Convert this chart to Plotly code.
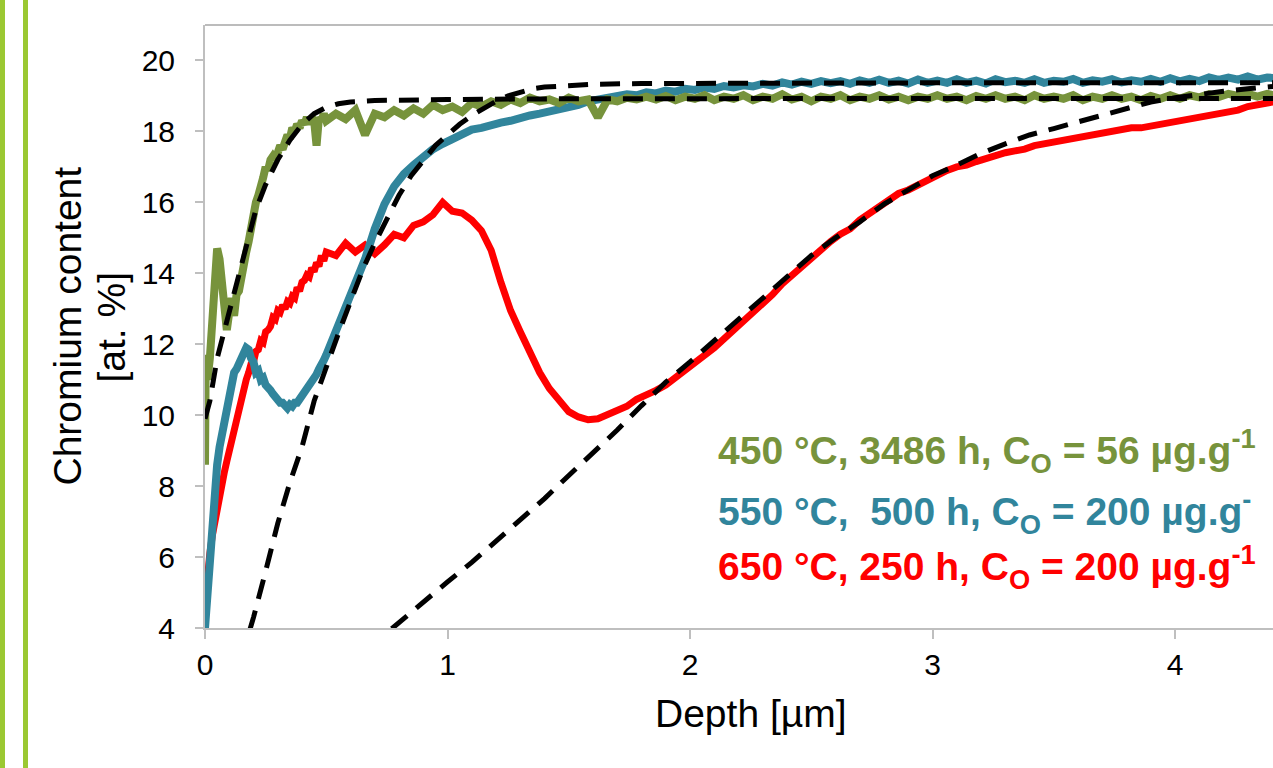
import plotly.graph_objects as go

# ---------------- data ----------------
# Depth grid (µm) for the measured profiles
depth_a = [0.00, 0.01, 0.02, 0.03, 0.04, 0.05, 0.06, 0.07, 0.08, 0.09,
           0.10, 0.11, 0.12, 0.13, 0.14, 0.15, 0.16, 0.17, 0.18, 0.19,
           0.20, 0.21, 0.22, 0.23, 0.24, 0.25, 0.26, 0.27, 0.28, 0.29,
           0.30, 0.31, 0.32, 0.33, 0.34, 0.35, 0.36, 0.37, 0.38, 0.39,
           0.40, 0.41, 0.42, 0.43, 0.44, 0.45, 0.46, 0.47, 0.48, 0.49,
           0.50]
depth_b = [0.54, 0.58, 0.62, 0.66, 0.70, 0.74, 0.78, 0.82, 0.86, 0.90,
           0.94, 0.98, 1.02, 1.06, 1.10, 1.14, 1.18, 1.22, 1.26, 1.30,
           1.34, 1.38, 1.42, 1.46, 1.50, 1.54, 1.58, 1.62, 1.66, 1.70,
           1.74, 1.78, 1.82, 1.86, 1.90, 1.94, 1.98, 2.02, 2.06, 2.10,
           2.14, 2.18, 2.22, 2.26, 2.30, 2.34, 2.38, 2.42, 2.46, 2.50,
           2.54, 2.58, 2.62, 2.66, 2.70, 2.74, 2.78, 2.82, 2.86, 2.90,
           2.94, 2.98, 3.02, 3.06, 3.10, 3.14, 3.18, 3.22, 3.26, 3.30,
           3.34, 3.38, 3.42, 3.46, 3.50, 3.54, 3.58, 3.62, 3.66, 3.70,
           3.74, 3.78, 3.82, 3.86, 3.90, 3.94, 3.98, 4.02, 4.06, 4.10,
           4.14, 4.18, 4.22, 4.26, 4.30, 4.34, 4.38, 4.42]

# 450 °C, 3486 h (green)
green_start_x = [0.0, 0.003, 0.006]
green_start_y = [8.6, 11.7, 9.3]
green_a = [9.0, 11.0, 11.6, 12.6, 14.3, 14.7, 14.4, 13.5, 12.8, 12.4,
           12.9, 13.3, 12.8, 13.4, 13.5, 14.0, 14.2, 14.6, 14.9, 15.4,
           15.6, 16.0, 16.2, 16.6, 16.7, 17.0, 16.9, 17.2, 17.3, 17.2,
           17.5, 17.6, 17.5, 17.8, 17.9, 17.8, 18.1, 18.0, 18.2, 18.1,
           18.3, 18.2, 18.4, 18.2, 18.4, 18.3, 17.6, 18.4, 18.3, 18.5,
           18.3]
green_b = [18.5, 18.35, 18.6, 17.9, 18.5, 18.4, 18.6, 18.45, 18.65, 18.5,
           18.75, 18.6, 18.7, 18.55, 18.8, 18.7, 18.85, 18.75, 18.9, 18.8,
           18.95, 18.85, 18.9, 18.8, 18.95, 18.85, 18.9, 18.4, 18.9, 18.85,
           18.95, 18.9, 18.98, 18.9, 19.0, 18.88, 18.98, 18.92, 19.02, 18.88,
           18.98, 18.92, 19.02, 18.88, 18.98, 18.92, 19.05, 18.9, 18.98, 18.85,
           18.98, 18.92, 19.02, 18.88, 18.98, 18.92, 19.02, 18.9, 18.98, 18.88,
           18.98, 18.92, 19.02, 18.92, 18.98, 18.88, 19.0, 18.92, 19.02, 18.92,
           18.98, 18.88, 19.02, 18.92, 18.98, 18.92, 19.02, 18.88, 18.98, 18.92,
           19.02, 18.92, 18.98, 18.88, 19.0, 18.92, 19.02, 18.92, 19.02, 18.96,
           19.05, 18.97, 19.06, 19.0, 19.06, 18.98, 19.06, 19.0]

# 550 °C, 500 h (blue)
blue_a = [4.0, 5.0, 6.3, 7.1, 7.9, 8.6, 9.1, 9.5, 9.9, 10.3,
          10.6, 10.9, 11.2, 11.3, 11.5, 11.6, 11.75, 11.9, 11.85, 11.6,
          11.5, 11.2, 11.25, 11.0, 11.05, 10.85, 10.8, 10.7, 10.6, 10.5,
          10.5, 10.35, 10.35, 10.25, 10.2, 10.3, 10.25, 10.35, 10.35, 10.45,
          10.55, 10.6, 10.75, 10.8, 10.95, 11.05, 11.15, 11.3, 11.4, 11.55,
          11.7]
blue_b = [12.35, 13.05, 13.7, 14.4, 15.25, 15.95, 16.45, 16.8, 17.05, 17.3,
          17.5, 17.65, 17.8, 17.95, 18.05, 18.1, 18.2, 18.25, 18.3, 18.4,
          18.45, 18.5, 18.55, 18.6, 18.7, 18.75, 18.85, 18.9, 18.95, 18.95,
          19.05, 19.02, 19.1, 19.07, 19.15, 19.12, 19.2, 19.17, 19.24, 19.2,
          19.28, 19.24, 19.3, 19.27, 19.34, 19.29, 19.38, 19.32, 19.4, 19.34,
          19.42, 19.36, 19.42, 19.34, 19.44, 19.37, 19.46, 19.37, 19.43, 19.35,
          19.46, 19.37, 19.43, 19.37, 19.47, 19.37, 19.43, 19.35, 19.47, 19.39,
          19.43, 19.37, 19.47, 19.37, 19.43, 19.4, 19.48, 19.37, 19.44, 19.4,
          19.47, 19.38, 19.44, 19.4, 19.48, 19.4, 19.5, 19.41, 19.48, 19.42,
          19.52, 19.45, 19.52, 19.46, 19.55, 19.46, 19.52, 19.5]

# 650 °C, 250 h (red)
red_a = [4.7, 5.6, 6.1, 6.6, 7.0, 7.4, 7.8, 8.1, 8.4, 8.7,
         9.0, 9.35, 9.6, 9.95, 10.2, 10.5, 10.75, 11.0, 11.2, 11.45,
         11.5, 11.8, 11.85, 12.1, 12.05, 12.35, 12.4, 12.5, 12.75, 12.7,
         12.95, 12.9, 13.1, 13.0, 13.2, 13.15, 13.35, 13.3, 13.6, 13.5,
         13.75, 13.8, 13.95, 13.9, 14.15, 14.05, 14.3, 14.2, 14.5, 14.35,
         14.6]
red_b = [14.5, 14.85, 14.6, 14.8, 14.55, 14.8, 15.1, 15.0, 15.35, 15.45,
         15.65, 16.0, 15.75, 15.7, 15.5, 15.2, 14.65, 13.75, 12.95, 12.35,
         11.75, 11.2, 10.75, 10.4, 10.1, 9.95, 9.87, 9.9, 10.0, 10.1,
         10.25, 10.45, 10.55, 10.7, 10.85, 11.05, 11.25, 11.45, 11.65, 11.9,
         12.15, 12.4, 12.6, 12.9, 13.1, 13.4, 13.7, 13.95, 14.15, 14.4,
         14.65, 14.9, 15.1, 15.25, 15.5, 15.7, 15.9, 16.05, 16.25, 16.35,
         16.5, 16.6, 16.75, 16.9, 17.0, 17.05, 17.15, 17.25, 17.35, 17.4,
         17.45, 17.5, 17.6, 17.65, 17.7, 17.75, 17.8, 17.85, 17.9, 17.97,
         18.0, 18.05, 18.1, 18.1, 18.15, 18.2, 18.25, 18.3, 18.35, 18.42,
         18.45, 18.5, 18.55, 18.6, 18.7, 18.75, 18.8, 18.85]

# Fitted profiles (black dashed)
fit_green_x = [0.0, 0.02, 0.05, 0.08, 0.10, 0.12, 0.15, 0.18, 0.21, 0.25,
               0.30, 0.35, 0.40, 0.45, 0.50, 0.55, 0.60, 0.70, 0.80, 1.0,
               1.5, 2.0, 3.0, 4.45]
fit_green_y = [9.9, 10.4, 11.6, 12.4, 12.9, 13.4, 14.3, 15.1, 15.8, 16.5,
               17.2, 17.75, 18.2, 18.5, 18.68, 18.78, 18.83, 18.87, 18.89, 18.9,
               18.92, 18.93, 18.93, 18.93]
fit_blue_x = [0.185, 0.20, 0.25, 0.30, 0.35, 0.40, 0.45, 0.50, 0.55, 0.60,
              0.65, 0.70, 0.75, 0.80, 0.85, 0.90, 0.95, 1.00, 1.05, 1.10,
              1.15, 1.20, 1.25, 1.30, 1.35, 1.40, 1.50, 1.60, 1.80, 2.20,
              3.00, 4.45]
fit_blue_y = [3.95, 4.3, 5.6, 6.95, 8.1, 9.1, 10.4, 11.4, 12.3, 13.2,
              14.1, 14.85, 15.55, 16.2, 16.75, 17.2, 17.6, 17.9, 18.2, 18.45,
              18.65, 18.85, 19.0, 19.1, 19.2, 19.25, 19.3, 19.33, 19.35, 19.36,
              19.37, 19.37]
fit_red_x = [0.77, 0.90, 1.00, 1.10, 1.20, 1.30, 1.40, 1.50, 1.60, 1.70,
             1.80, 1.90, 2.00, 2.10, 2.20, 2.30, 2.40, 2.50, 2.60, 2.70,
             2.80, 2.90, 3.00, 3.10, 3.20, 3.30, 3.40, 3.50, 3.60, 3.70,
             3.80, 3.90, 4.00, 4.10, 4.20, 4.30, 4.45]
fit_red_y = [3.98, 4.75, 5.3, 5.85, 6.45, 7.05, 7.65, 8.3, 8.93, 9.58,
             10.27, 10.93, 11.5, 12.1, 12.7, 13.3, 13.93, 14.5, 15.0, 15.45,
             15.95, 16.35, 16.75, 17.05, 17.38, 17.65, 17.9, 18.08, 18.27, 18.45,
             18.65, 18.83, 18.95, 19.05, 19.13, 19.2, 19.3]

labels = ["450 °C, 3486 h, C<sub>O</sub> = 56 µg.g<sup>-1</sup>",
          "550 °C,\u00a0\u00a0500 h, C<sub>O</sub> = 200 µg.g<sup>-</sup>",
          "650 °C, 250 h, C<sub>O</sub> = 200 µg.g<sup>-1</sup>"]
label_y = [9.0, 7.27, 5.72]

GREEN = "#77933C"
BLUE = "#31859C"
RED = "#FF0000"
FONT = "Liberation Sans, Arial, sans-serif"

# ---------------- figure ----------------
fig = go.Figure()

fig.add_trace(go.Scatter(x=depth_a + depth_b, y=red_a + red_b, mode="lines",
                         line=dict(color=RED, width=7)))
fig.add_trace(go.Scatter(x=depth_a + depth_b, y=blue_a + blue_b, mode="lines",
                         line=dict(color=BLUE, width=8)))
fig.add_trace(go.Scatter(x=green_start_x + depth_a[1:] + depth_b,
                         y=green_start_y + green_a[1:] + green_b, mode="lines",
                         line=dict(color=GREEN, width=8)))

for fx, fy in [(fit_green_x, fit_green_y), (fit_blue_x, fit_blue_y), (fit_red_x, fit_red_y)]:
    fig.add_trace(go.Scatter(x=fx, y=fy, mode="lines",
                             line=dict(color="black", width=5, dash="20px,12px")))

for txt, yy, col in zip(labels, label_y, [GREEN, BLUE, RED]):
    fig.add_annotation(x=2.107, y=yy, xref="x", yref="y", text="<b>" + txt + "</b>",
                       showarrow=False, xanchor="left", yanchor="middle",
                       font=dict(family=FONT, size=39, color=col))

# axis titles
fig.add_annotation(x=(67 - 205) / 1068, y=0.5, xref="paper", yref="paper",
                   text="Chromium content", textangle=-90, showarrow=False,
                   xanchor="center", yanchor="middle",
                   font=dict(family=FONT, size=39, color="black"))
fig.add_annotation(x=(111 - 205) / 1068, y=0.5, xref="paper", yref="paper",
                   text="[at. %]", textangle=-90, showarrow=False,
                   xanchor="center", yanchor="middle",
                   font=dict(family=FONT, size=39, color="black"))
fig.add_annotation(x=(751 - 205) / 1068, y=(628 - 713) / 603, xref="paper", yref="paper",
                   text="Depth [µm]", showarrow=False,
                   xanchor="center", yanchor="middle",
                   font=dict(family=FONT, size=39, color="black"))

# decorative slide bars and top border
fig.add_shape(type="rect", xref="paper", yref="paper",
              x0=(0 - 205) / 1068, x1=(5 - 205) / 1068, y0=-0.25, y1=1.06,
              fillcolor="#9BC832", line_width=0, layer="above")
fig.add_shape(type="rect", xref="paper", yref="paper",
              x0=(23 - 205) / 1068, x1=(28 - 205) / 1068, y0=-0.25, y1=1.06,
              fillcolor="#9BC832", line_width=0, layer="above")
fig.add_shape(type="line", xref="paper", yref="paper", x0=0, x1=1, y0=1, y1=1,
              line=dict(color="#A6A6A6", width=1.5))

fig.update_xaxes(range=[0, 4.404], tickvals=[0, 1, 2, 3, 4], showgrid=False,
                 zeroline=False, showline=True, linecolor="#BFBFBF", linewidth=2,
                 ticks="outside", ticklen=9, tickcolor="#BFBFBF", tickwidth=1.5,
                 tickfont=dict(family=FONT, size=30, color="black"),
                 ticklabelstandoff=0)
fig.update_yaxes(range=[4, 21], tickvals=[4, 6, 8, 10, 12, 14, 16, 18, 20],
                 showgrid=False, zeroline=False, showline=True,
                 linecolor="#BFBFBF", linewidth=2,
                 ticks="outside", ticklen=8, tickcolor="#BFBFBF", tickwidth=1.5,
                 tickfont=dict(family=FONT, size=30, color="black"),
                 ticklabelstandoff=14)

fig.update_layout(width=1273, height=768, margin=dict(l=205, r=0, t=25, b=140),
                  plot_bgcolor="white", paper_bgcolor="white", showlegend=False,
                  font=dict(family=FONT))

fig.write_html("out.html", config={"displayModeBar": False},
               post_script="document.body.style.margin='0';document.body.style.overflow='hidden';")
